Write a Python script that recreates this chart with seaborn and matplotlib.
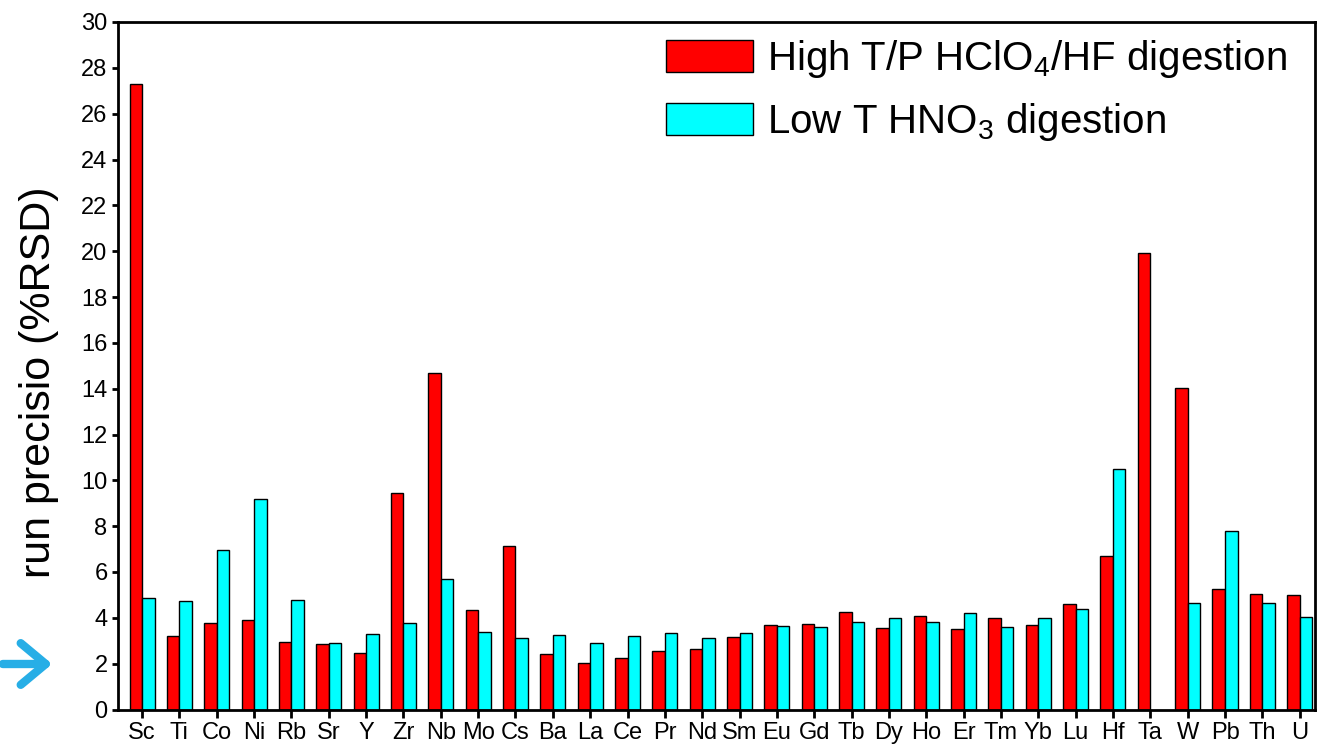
import numpy as np
import pandas as pd
import matplotlib as mpl
import matplotlib.pyplot as plt
import seaborn as sns

elements = ["Sc", "Ti", "Co", "Ni", "Rb", "Sr", "Y", "Zr", "Nb", "Mo", "Cs",
            "Ba", "La", "Ce", "Pr", "Nd", "Sm", "Eu", "Gd", "Tb", "Dy", "Ho",
            "Er", "Tm", "Yb", "Lu", "Hf", "Ta", "W", "Pb", "Th", "U"]
high_tp = [27.3, 3.22, 3.78, 3.9, 2.95, 2.85, 2.46, 9.43, 14.7, 4.35, 7.14,
           2.41, 2.04, 2.24, 2.56, 2.66, 3.17, 3.7, 3.72, 4.25, 3.55, 4.07,
           3.51, 4.0, 3.68, 4.6, 6.68, 19.9, 14.05, 5.24, 5.03, 4.98]
low_t = [4.85, 4.74, 6.98, 9.17, 4.79, 2.91, 3.3, 3.77, 5.69, 3.39, 3.14,
         3.27, 2.92, 3.2, 3.33, 3.14, 3.33, 3.65, 3.59, 3.84, 4.0, 3.83,
         4.23, 3.61, 3.99, 4.39, 10.5, np.nan, 4.63, 7.8, 4.64, 4.05]
methods = ["High T/P HClO$_4$/HF digestion", "Low T HNO$_3$ digestion"]
colors = ["#ff0000", "#00ffff"]

df = pd.DataFrame({
    "element": elements * 2,
    "value": high_tp + low_t,
    "method": [methods[0]] * len(elements) + [methods[1]] * len(elements),
})
df = df.dropna()

sns.set_style("ticks")
plt.rcParams['font.family'] = ['Liberation Sans', 'DejaVu Sans']
plt.rcParams['mathtext.fontset'] = 'custom'
plt.rcParams['mathtext.rm'] = 'Liberation Sans'
plt.rcParams['mathtext.it'] = 'Liberation Sans'
plt.rcParams['text.color'] = 'black'
plt.rcParams['axes.labelcolor'] = 'black'

fig = plt.figure(figsize=(13.17, 7.47), dpi=100)
ax = fig.add_axes([118 / 1317, 1 - 709.5 / 747, (1315 - 118) / 1317, (709.5 - 22) / 747])

sns.barplot(data=df, x="element", y="value", hue="method", order=elements,
            hue_order=methods, palette=colors, saturation=1, width=0.67,
            edgecolor="black", linewidth=1, ax=ax)

ax.set_xlim(-0.644, len(elements) - 1 + 0.41)
ax.set_ylim(0, 30)
ax.set_yticks(np.arange(0, 31, 2))
ax.set_xlabel("")
ax.set_ylabel("run precisio (%RSD)", fontsize=31)
ax.yaxis.set_label_coords(-0.049, 0.476)
ax.tick_params(axis="both", labelsize=17, width=2, colors="black")
ax.tick_params(axis="x", length=6, pad=3)
ax.tick_params(axis="y", length=4.5, pad=3)
for s in ax.spines.values():
    s.set_linewidth(2)
    s.set_color("black")

handles, labels = ax.get_legend_handles_labels()
ax.legend(handles, methods, loc="upper right", frameon=False, fontsize=29,
          handlelength=2.18, handleheight=0.84, handletextpad=0.35,
          labelspacing=0.52, borderaxespad=0.2, bbox_to_anchor=(0.997, 1.012))

fig.patches.append(mpl.patches.FancyArrowPatch(
    (0.0, 1 - 664 / 747), (55 / 1317, 1 - 664 / 747), transform=fig.transFigure,
    arrowstyle="->,head_length=0.9,head_width=0.75", mutation_scale=20,
    color="#27aee6", linewidth=6, capstyle="round", joinstyle="round"))

plt.savefig("out.png", dpi=100)
